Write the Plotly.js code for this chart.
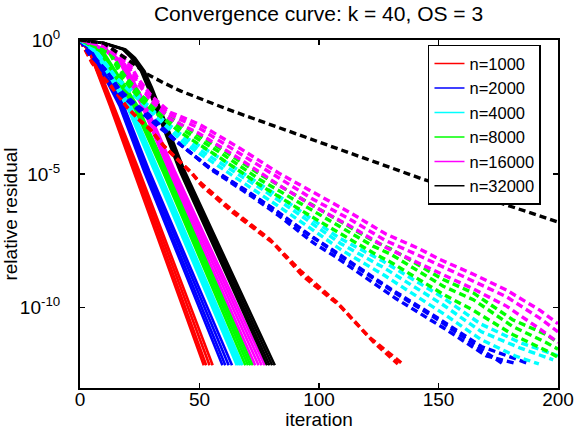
<!DOCTYPE html>
<html>
<head>
<meta charset="utf-8">
<script src="https://cdn.plot.ly/plotly-3.0.1.min.js"></script>
<style>html,body{margin:0;padding:0;background:#fff;}#chart{width:576px;height:430px;}</style>
</head>
<body>
<div id="chart"></div>
<script>
// Series labels and colours
const seriesNames = ["n=1000", "n=2000", "n=4000", "n=8000", "n=16000", "n=32000"];
const seriesColors = ["#ff0000", "#0000ff", "#00ffff", "#00ff00", "#ff00ff", "#000000"];

// Solid curves: iteration vertices and log10(relative residual)
const redSolidLog = [0, -0.45, -2.45, -4.9, -12.15];
const redSolidX = [
  [0, 4, 12.5, 22.5, 51.8],
  [0, 4, 13, 23.3, 52.8],
  [0, 4.5, 13.5, 24, 54.2],
  [0, 5, 14, 24.8, 55.5]
];
const blueSolidLog = [0, -0.45, -2.45, -4.9, -12.15];
const blueSolidX = [
  [0, 5, 16.5, 26.8, 59.6],
  [0, 5, 17, 27.5, 60.8],
  [0, 5.5, 17.6, 28.3, 62.2],
  [0, 6, 18.2, 29, 63.6]
];
const cyanSolidLog = [0, -0.4, -2.45, -4.9, -12.15];
const cyanSolidX = [
  [0, 6, 19.5, 31.2, 65.6],
  [0, 6.5, 20, 31.8, 66.4],
  [0, 7, 20.6, 32.4, 67.2],
  [0, 7.5, 21.2, 33, 68]
];
const greenSolidLog = [0, -0.4, -2.45, -4.9, -12.15];
const greenSolidX = [
  [0, 8, 22.3, 34.6, 69.2],
  [0, 8.5, 22.9, 35.3, 70.3],
  [0, 9, 23.5, 36, 71.3],
  [0, 9.5, 24, 36.6, 72.3]
];
const magentaSolidLog = [0, -0.35, -0.9, -2.45, -4.9, -12.15];
const magentaSolidX = [
  [0, 10, 17, 25.8, 37.4, 73.3],
  [0, 10, 17.6, 26.4, 38.2, 74.7],
  [0, 10.5, 18.2, 27, 39, 76],
  [0, 11, 18.8, 27.6, 39.7, 77.3]
];
const blackSolidLog = [0, -0.12, -0.35, -0.67, -1.16, -1.8, -4.9, -12.15];
const blackSolidX = [
  [0, 10, 18, 21.5, 25.5, 28.5, 41.8, 78.3],
  [0, 10, 18, 22, 26, 29, 42.4, 79.3],
  [0, 10, 18.5, 22.5, 26.5, 29.6, 43.1, 80.4],
  [0, 10.5, 19, 23, 27, 30.2, 43.8, 81.5]
];

// Dashed curves
const redDashX = [
  [0, 5.6, 9, 14, 19.6, 25, 29, 35, 46, 50, 63, 79.5, 92, 107.5, 121, 135],
  [0, 5, 9.5, 14.5, 20, 25.5, 30, 36, 47, 51, 64, 81, 93, 109, 123, 133]
];
const redDashLog = [
  [0, -0.9, -1.33, -1.8, -2.5, -3.0, -3.3, -3.95, -4.9, -5.3, -6.3, -7.45, -8.6, -9.8, -11.1, -12.1],
  [0, -0.85, -1.38, -1.9, -2.55, -3.05, -3.4, -4.05, -5.0, -5.45, -6.45, -7.6, -8.8, -9.95, -11.3, -12.1]
];
const blueDashX = [
  [0, 4.2, 11.8, 16.7, 23.7, 32, 39, 54, 71, 82, 97.6, 106, 131, 150.6, 168.6, 177],
  [0, 4.5, 12, 17, 24, 32.5, 40, 55, 72, 83, 98, 107, 132, 152, 170, 183],
  [0, 4, 11.5, 16.5, 23.5, 31.5, 38.5, 53, 70, 81, 96, 105, 130, 150, 168, 188]
];
const blueDashLog = [
  [0, -0.52, -1.2, -1.95, -2.5, -3.1, -3.7, -4.75, -5.7, -6.4, -7.4, -7.9, -9.4, -10.5, -11.6, -12.1],
  [0, -0.5, -1.25, -1.9, -2.45, -3.05, -3.75, -4.85, -5.85, -6.55, -7.6, -8.1, -9.65, -10.75, -11.8, -12.1],
  [0, -0.55, -1.2, -2.0, -2.55, -3.15, -3.65, -4.7, -5.65, -6.3, -7.3, -7.8, -9.3, -10.4, -11.45, -12.1]
];
const cyanDashX = [
  [0, 7, 15.4, 23.7, 33.5, 43, 57, 76.6, 86.6, 96, 109, 127, 152, 168, 184, 198],
  [0, 7.5, 16, 24, 34, 43.5, 57.5, 77, 87, 96.5, 109.5, 127.5, 152.5, 168, 182, 192],
  [0, 6.5, 15, 23.5, 33, 42.5, 56.5, 76, 86, 95.5, 108.5, 126.5, 151.5, 167.5, 184, 200]
];
const cyanDashLog = [
  [0, -0.45, -1.45, -2.1, -2.95, -3.7, -4.5, -5.6, -6.2, -6.8, -7.6, -8.5, -9.9, -10.9, -11.5, -11.95],
  [0, -0.5, -1.5, -2.2, -3.05, -3.85, -4.7, -5.85, -6.45, -7.05, -7.85, -8.8, -10.25, -11.2, -11.8, -12.1],
  [0, -0.4, -1.4, -2.0, -2.85, -3.55, -4.3, -5.4, -6.0, -6.6, -7.4, -8.25, -9.6, -10.6, -11.3, -11.8]
];
const greenDashX = [0, 12.5, 18, 26, 33.5, 42, 58.6, 75, 96, 109, 122.6, 130, 152, 164.6, 181, 195, 200];
const greenDashLog = [
  [0, -0.45, -1.35, -2.2, -2.7, -3.3, -4.2, -5.2, -6.3, -7.0, -7.7, -8.0, -9.2, -9.7, -10.7, -11.3, -11.55],
  [0, -0.5, -1.45, -2.3, -2.85, -3.45, -4.4, -5.4, -6.55, -7.25, -7.95, -8.3, -9.5, -10.1, -11.0, -11.6, -11.85],
  [0, -0.4, -1.25, -2.1, -2.6, -3.15, -4.05, -5.0, -6.1, -6.8, -7.5, -7.8, -8.95, -9.45, -10.45, -11.0, -11.3]
];
const magentaDashX = [0, 10, 19.6, 24, 30, 37.7, 50, 67, 83.7, 97.5, 114, 128, 142, 150.6, 164.6, 178.6, 192.5, 200];
const magentaDashLog = [
  [0, -0.2, -0.8, -1.5, -2.2, -2.8, -3.3, -4.25, -5.2, -5.95, -6.75, -7.5, -8.06, -8.43, -9.0, -9.6, -10.4, -10.9],
  [0, -0.25, -0.9, -1.6, -2.3, -2.95, -3.5, -4.45, -5.45, -6.2, -7.0, -7.75, -8.35, -8.7, -9.3, -9.95, -10.8, -11.3],
  [0, -0.15, -0.7, -1.4, -2.1, -2.7, -3.15, -4.05, -5.0, -5.7, -6.5, -7.25, -7.8, -8.2, -8.75, -9.35, -10.1, -10.6]
];
const blackDashX = [0, 10, 21, 28, 35, 42, 61.5, 79.5, 96, 143.5, 173, 200];
const blackDashLog = [0, -0.12, -0.8, -1.27, -1.6, -1.9, -2.58, -3.15, -3.7, -5.2, -6.0, -6.8];

// Axis ticks
const xTickVals = [0, 50, 100, 150, 200];
const yTickVals = [1, 1e-5, 1e-10];
const yTickText = ["10<sup>0</sup>", "10<sup>-5</sup>", "10<sup>-10</sup>"];

const toRes = arr => arr.map(v => Math.pow(10, v));
const traces = [];

const solidSets = [
  [redSolidX, redSolidLog], [blueSolidX, blueSolidLog], [cyanSolidX, cyanSolidLog],
  [greenSolidX, greenSolidLog], [magentaSolidX, magentaSolidLog], [blackSolidX, blackSolidLog]
];
solidSets.forEach((s, ci) => {
  s[0].forEach(xs => {
    traces.push({x: xs, y: toRes(s[1]), type: "scatter", mode: "lines", showlegend: false,
      hoverinfo: "skip", line: {color: seriesColors[ci], width: 2.6}});
  });
});

const dashSets = [
  [redDashX, redDashLog], [blueDashX, blueDashLog], [cyanDashX, cyanDashLog],
  [greenDashX, greenDashLog], [magentaDashX, magentaDashLog], [[blackDashX], [blackDashLog]]
];
dashSets.forEach((s, ci) => {
  s[1].forEach((ls, ti) => {
    const xs = Array.isArray(s[0][0]) ? s[0][ti] : s[0];
    traces.push({x: xs, y: toRes(ls), type: "scatter", mode: "lines", showlegend: false,
      hoverinfo: "skip", line: {color: seriesColors[ci], width: 3.4, dash: "7px,4px"}});
  });
});

// legend entries (thin samples)
seriesNames.forEach((nm, ci) => {
  traces.push({x: [null], y: [null], type: "scatter", mode: "lines", name: nm,
    line: {color: seriesColors[ci], width: 1.5}});
});

const fam = "Liberation Sans, Arial, Helvetica, sans-serif";
const layout = {
  width: 576, height: 430,
  margin: {l: 80, r: 18, t: 40, b: 42, pad: 0},
  paper_bgcolor: "#fff", plot_bgcolor: "#fff",
  font: {family: fam, size: 19, color: "#000"},
  showlegend: true,
  title: {text: "Convergence curve: k = 40, OS = 3", font: {family: fam, size: 21, color: "#000"},
    x: 0.553, xanchor: "center", y: 0.968, yanchor: "middle"},
  xaxis: {
    range: [0, 200], tickvals: xTickVals, ticks: "inside", ticklen: 5, tickwidth: 1.5,
    tickcolor: "#000", showline: true, linewidth: 2, linecolor: "#000", mirror: "ticks",
    showgrid: false, zeroline: false, tickfont: {family: fam, size: 19},
    ticklabelstandoff: -7,
    title: {text: "iteration", font: {family: fam, size: 19}, standoff: 0}
  },
  yaxis: {
    type: "log", range: [-13, 0], tickvals: yTickVals, ticktext: yTickText,
    ticks: "inside", ticklen: 5, tickwidth: 1.5, tickcolor: "#000",
    showline: true, linewidth: 2, linecolor: "#000", mirror: "ticks",
    showgrid: false, zeroline: false, tickfont: {family: fam, size: 19},
    ticklabelstandoff: 14,
    title: {text: "relative residual", font: {family: fam, size: 19}, standoff: 0}
  },
  legend: {
    x: 0.728, xanchor: "left", y: 0.986, yanchor: "top",
    bgcolor: "#fff", bordercolor: "#000", borderwidth: 1.5,
    font: {family: fam, size: 16.5}, tracegroupgap: 0
  }
};

Plotly.newPlot("chart", traces, layout, {displayModeBar: false, staticPlot: true});
</script>
</body>
</html>
